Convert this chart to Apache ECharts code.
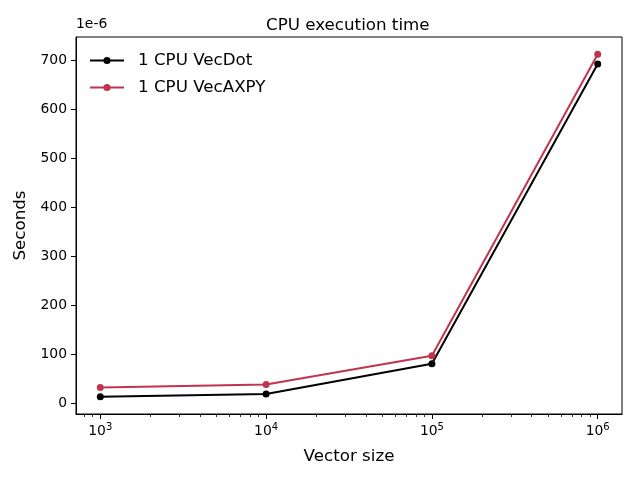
<!DOCTYPE html>
<html>
<head>
<meta charset="utf-8">
<script src="https://cdn.jsdelivr.net/npm/echarts@6/dist/echarts.min.js"></script>
<style>
	html, body { margin: 0; padding: 0; background: #fff; }
	#CpuTimeChart { width: 640px; height: 480px; }
</style>
</head>
<body>
<div id="CpuTimeChart"></div>
<script>
// values (seconds, in units of 1e-6)
var vectorSizes = [1e3, 1e4, 1e5, 1e6];
var vecDotTimes = [13, 19, 80.5, 692];
var vecAxpyTimes = [32, 38, 97, 712];
var seriesNames = ['1 CPU VecDot', '1 CPU VecAXPY'];
var yTicks = [0, 100, 200, 300, 400, 500, 600, 700];
var xMajorExp = [3, 4, 5, 6];

var FONT = 'DejaVu Sans';

var PlotChart = {
	init: function () {
		var chart = echarts.init(document.getElementById('CpuTimeChart'));

		// x is plotted as log10(size) on a value axis
		var toPoints = function (vals) {
			return vectorSizes.map(function (s, i) { return [Math.log10(s), vals[i]]; });
		};
		var minorTicks = [];
		for (var e = 2; e <= 6; e++) {
			for (var m = 2; m <= 9; m++) {
				var v = Math.log10(m * Math.pow(10, e));
				if (v > 2.853 && v < 6.147) minorTicks.push(v);
			}
		}

		var option = {
			animation: false,
			backgroundColor: '#fff',
			title: {
				text: 'CPU execution time',
				left: 261,
				top: 12,
				textStyle: { fontFamily: FONT, fontSize: 16.7, fontWeight: 'normal', color: '#000' }
			},
			graphic: [{
				type: 'text',
				left: 76,
				top: 17,
				style: { text: '1e-6', fontFamily: FONT, fontSize: 13.9, fill: '#000' }
			}],
			legend: {
				left: 84,
				top: 47,
				orient: 'vertical',
				itemWidth: 34,
				itemHeight: 9,
				itemGap: 10,
				textStyle: { fontFamily: FONT, fontSize: 16.7, color: '#000', padding: [0, 0, 0, 9] },
				data: seriesNames
			},
			grid: {
				left: 76, right: 18, top: 37, bottom: 66,
				show: true, borderColor: '#000', borderWidth: 1
			},
			xAxis: [{
				type: 'value',
				min: 2.8535, max: 6.1465,
				name: 'Vector size',
				nameLocation: 'middle',
				nameGap: 34,
				nameTextStyle: { fontFamily: FONT, fontSize: 16.7, color: '#000' },
				axisLine: { show: true, onZero: false, lineStyle: { color: '#000', width: 1 } },
				axisTick: { show: true, length: 5, customValues: xMajorExp, lineStyle: { color: '#000' } },
				axisLabel: {
					customValues: xMajorExp,
					margin: 8,
					color: '#000',
					formatter: function (v) { return '{b|10}{s|' + Math.round(v) + '}'; },
					rich: {
						b: { fontFamily: FONT, fontSize: 13.9, color: '#000' },
						s: { fontFamily: FONT, fontSize: 10, color: '#000', padding: [0, 0, 8, 0] }
					}
				},
				splitLine: { show: false }
			}, {
				type: 'value',
				min: 2.8535, max: 6.1465,
				position: 'bottom',
				axisLine: { show: false, onZero: false },
				axisTick: { show: true, length: 3, customValues: minorTicks, lineStyle: { color: '#000', width: 0.8 } },
				axisLabel: { show: false },
				splitLine: { show: false }
			}],
			yAxis: {
				type: 'value',
				min: -22, max: 747,
				name: 'Seconds',
				nameLocation: 'middle',
				nameGap: 46,
				nameTextStyle: { fontFamily: FONT, fontSize: 16.7, color: '#000' },
				axisLine: { show: true, onZero: false, lineStyle: { color: '#000', width: 1 } },
				axisTick: { show: true, length: 5, customValues: yTicks, lineStyle: { color: '#000' } },
				axisLabel: { customValues: yTicks, margin: 9, fontFamily: FONT, fontSize: 13.9, color: '#000' },
				splitLine: { show: false }
			},
			series: [
				{
					name: seriesNames[0],
					type: 'line',
					data: toPoints(vecDotTimes),
					color: '#000000',
					symbol: 'circle',
					symbolSize: 7,
					lineStyle: { width: 2 }
				}, {
					name: seriesNames[1],
					type: 'line',
					data: toPoints(vecAxpyTimes),
					color: '#c0344f',
					symbol: 'circle',
					symbolSize: 7,
					lineStyle: { width: 2 }
				}
			]
		};

		chart.setOption(option);
	}
};

PlotChart.init();
</script>
</body>
</html>
